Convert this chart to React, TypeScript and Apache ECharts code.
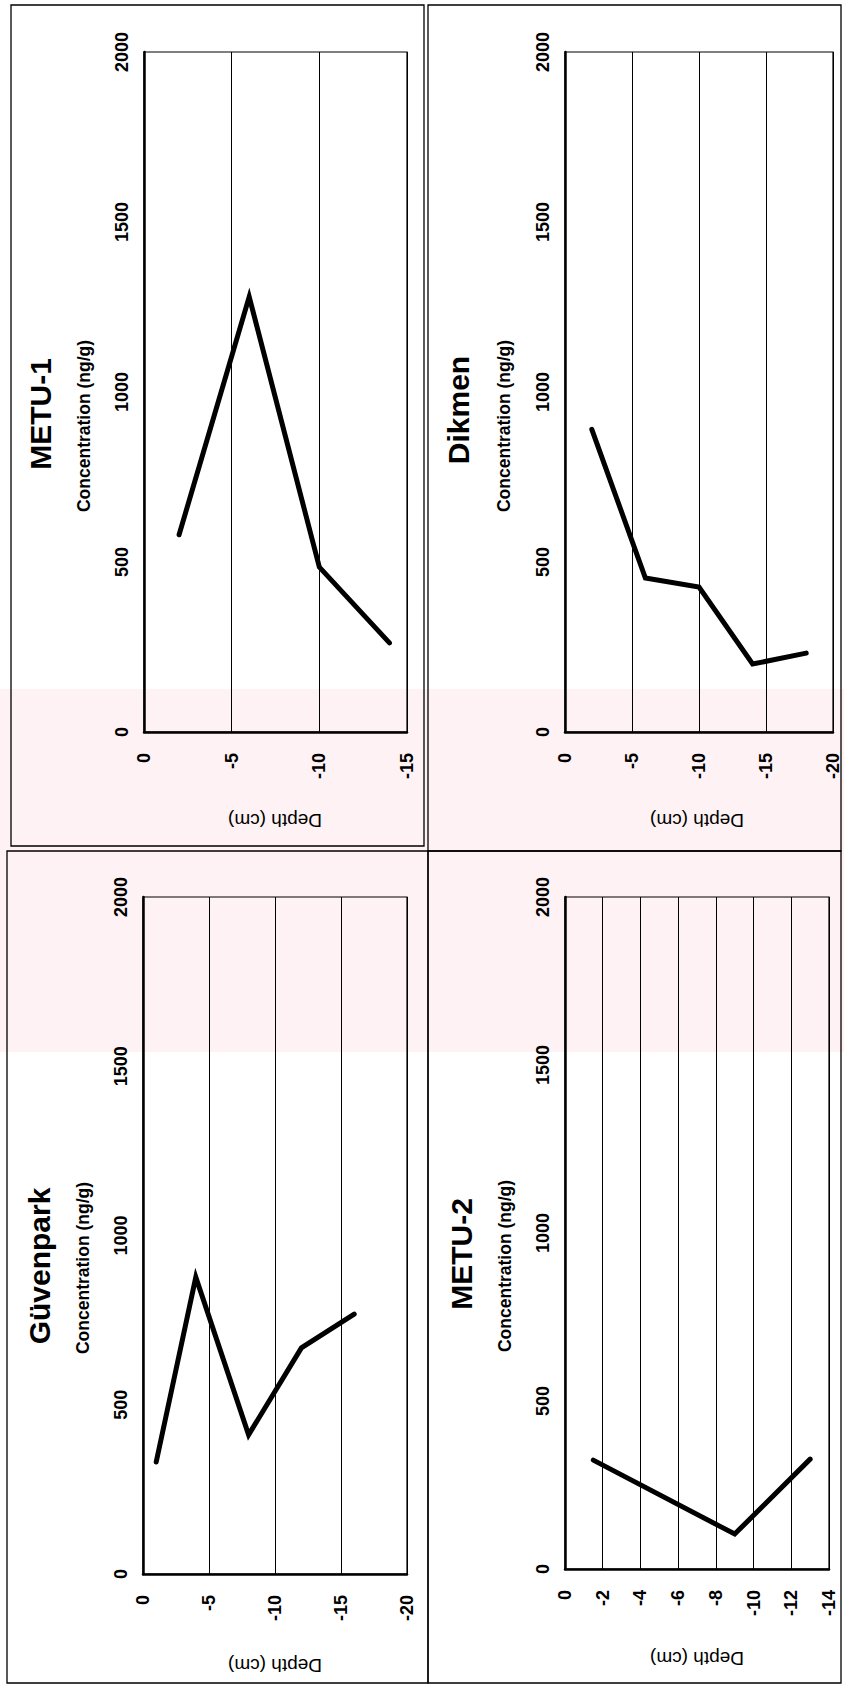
import React, { useEffect, useRef } from "react";
import * as echarts from "echarts";

const FONT = 'Arial, "Liberation Sans", Helvetica, sans-serif';

// Data: depth (cm) and concentration (ng/g)
const metu1Depth = [-2, -6, -10, -14];
const metu1Conc = [580, 1280, 485, 262];

const dikmenDepth = [-2, -6, -10, -14, -18];
const dikmenConc = [890, 453, 426, 200, 232];

const guvenDepth = [-1, -4, -8, -12, -16];
const guvenConc = [331, 877, 411, 668, 768];

const metu2Depth = [-1.5, -9, -13];
const metu2Conc = [324, 104, 327];

const titles = ["METU-1", "Dikmen", "Güvenpark", "METU-2"];
const depthName = "Depth (cm)";
const concName = "Concentration (ng/g)";
const concMin = 0;
const concMax = 2000;
const concStep = 500;
const depthMin = [-15, -20, -20, -14];
const depthStep = [5, 5, 5, 2];

const seriesDepth = [metu1Depth, dikmenDepth, guvenDepth, metu2Depth];
const seriesConc = [metu1Conc, dikmenConc, guvenConc, metu2Conc];

// layout
const grids = [
  { left: 144, top: 52, width: 263, height: 680 },
  { left: 565, top: 52, width: 268, height: 680 },
  { left: 143, top: 897, width: 264, height: 677 },
  { left: 565, top: 897, width: 264, height: 672 },
];
const titlePos = [
  [40, 414],
  [458, 410],
  [39, 1266],
  [461, 1254],
];
const concPos = [
  [84, 426],
  [504, 426],
  [83, 1268],
  [505, 1266],
];
const depthPos = [
  [275, 820],
  [697, 820],
  [275, 1665],
  [697, 1658],
];
const panels = [
  { x: 11, y: 5, w: 413, h: 841 },
  { x: 428, y: 5, w: 413, h: 846 },
  { x: 7, y: 851, w: 421, h: 832 },
  { x: 428, y: 851, w: 413, h: 832 },
];

export default function App() {
  const ref = useRef<HTMLDivElement>(null);
  useEffect(() => {
    document.body.style.margin = "0";
    const chart = echarts.init(ref.current!, undefined, { renderer: "svg" });
    const graphic: any[] = [];
    graphic.push({
      type: "rect",
      z: -10,
      silent: true,
      shape: { x: 0, y: 689, width: 844, height: 363 },
      style: { fill: "#fef2f4" },
    });
    panels.forEach((p) => {
      graphic.push({
        type: "rect",
        z: 1,
        silent: true,
        shape: { x: p.x, y: p.y, width: p.w, height: p.h },
        style: { fill: "none", stroke: "#000", lineWidth: 1.3 },
      });
    });
    titles.forEach((t, i) => {
      graphic.push({
        type: "text",
        z: 10,
        x: titlePos[i][0],
        y: titlePos[i][1],
        rotation: Math.PI / 2,
        style: {
          text: t,
          fontFamily: FONT,
          fontSize: 30,
          fontWeight: "bold",
          fill: "#000",
          textAlign: "center",
          textVerticalAlign: "middle",
        },
      });
      graphic.push({
        type: "text",
        z: 10,
        x: concPos[i][0],
        y: concPos[i][1],
        rotation: Math.PI / 2,
        style: {
          text: concName,
          fontFamily: FONT,
          fontSize: 17.5,
          fontWeight: "bold",
          fill: "#000",
          textAlign: "center",
          textVerticalAlign: "middle",
        },
      });
      graphic.push({
        type: "text",
        z: 10,
        x: depthPos[i][0],
        y: depthPos[i][1],
        rotation: Math.PI,
        style: {
          text: depthName,
          fontFamily: FONT,
          fontSize: 19,
          fill: "#000",
          textAlign: "center",
          textVerticalAlign: "middle",
        },
      });
    });

    const plain = (v: number) => String(v);

    const option: any = {
      animation: false,
      backgroundColor: "transparent",
      grid: grids.map((g) => ({
        ...g,
        show: true,
        borderColor: "#000",
        borderWidth: 1.2,
        backgroundColor: "transparent",
        containLabel: false,
      })),
      xAxis: grids.map((_, i) => ({
        gridIndex: i,
        type: "value",
        inverse: true,
        min: depthMin[i],
        max: 0,
        interval: depthStep[i],
        position: "bottom",
        axisLine: { show: true, onZero: false, lineStyle: { color: "#000", width: 2.5 } },
        axisTick: { show: false },
        axisLabel: {
          rotate: 90,
          margin: 21,
          fontSize: 18,
          fontWeight: "bold",
          fontFamily: FONT,
          color: "#000",
          showMinLabel: true,
          showMaxLabel: true,
          formatter: plain,
        },
        splitLine: { show: true, lineStyle: { color: "#000", width: 1 } },
      })),
      yAxis: grids.map((_, i) => ({
        gridIndex: i,
        type: "value",
        min: concMin,
        max: concMax,
        interval: concStep,
        position: "left",
        axisLine: { show: true, onZero: false, lineStyle: { color: "#000", width: 2.5 } },
        axisTick: { show: false },
        axisLabel: {
          rotate: 90,
          margin: 13,
          fontSize: 18,
          fontWeight: "bold",
          fontFamily: FONT,
          color: "#000",
          showMinLabel: true,
          showMaxLabel: true,
          formatter: plain,
        },
        splitLine: { show: false },
      })),
      series: grids.map((_, i) => ({
        type: "line",
        name: titles[i],
        xAxisIndex: i,
        yAxisIndex: i,
        data: seriesDepth[i].map((d, k) => [d, seriesConc[i][k]]),
        symbol: "none",
        silent: true,
        lineStyle: { color: "#000", width: 5, cap: "round", join: "miter" },
      })),
      graphic,
    };
    chart.setOption(option);
    return () => chart.dispose();
  }, []);
  return <div ref={ref} style={{ width: 844, height: 1686 }} />;
}
